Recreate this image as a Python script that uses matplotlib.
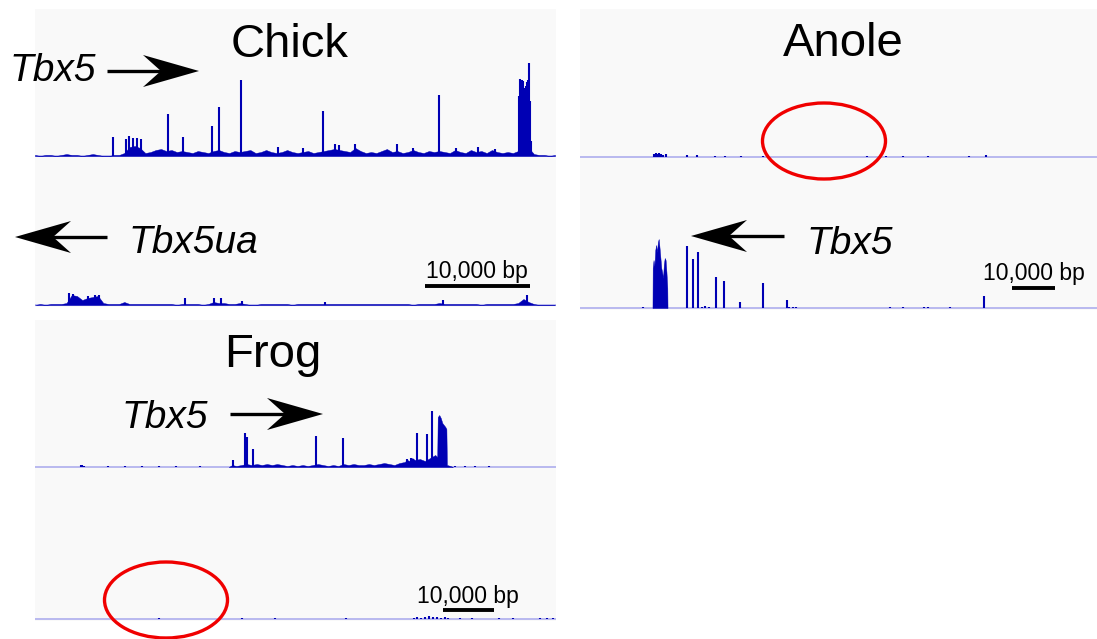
import numpy as np
import matplotlib
matplotlib.use('Agg')
import matplotlib.pyplot as plt
from matplotlib.patches import Ellipse, Polygon

plt.rcParams['font.family'] = ['Liberation Sans', 'DejaVu Sans']

W, H = 1097, 639
BG = '#f9f9f9'
SIGNAL = '#0000b4'
BASE = '#b4b4ee'

# ---------------- chick (0.5 kb bins from 0 kb) ----------------
chick_span_kb = 49.6
chick_top_floor = [1, 0, 1, 1, 0, 1, 2, 1, 1, 0, 1, 2, 1, 0,
                   0, 1, 1, 3, 9, 10, 8, 3, 4, 6,
                   7, 5, 6, 4, 5, 4, 3, 5, 4, 3,
                   5, 6, 4, 3, 5, 4, 5, 6, 3, 4,
                   6, 4, 3, 4, 6, 4, 3, 4, 5, 3,
                   4, 5, 6, 7, 6, 5, 4, 8, 5, 3,
                   4, 3, 5, 7, 4, 5, 3, 4, 6, 4,
                   3, 5, 4, 5, 4, 3, 6, 4, 3, 6,
                   4, 5, 3, 6, 4, 3, 4, 3, 5, 8,
                   8, 2, 1, 1, 0, 1]
chick_top_spike_kb = [7.39, 8.67, 8.99, 9.31, 9.73, 10.05, 12.62, 14.12, 16.86,
                      17.56, 19.65, 23.1, 25.5, 27.38, 28.57, 28.9, 30.5, 34.44,
                      36.0, 38.42, 40.1, 42.2, 43.8,
                      46.1, 46.2, 46.3, 46.4, 46.5, 46.6, 46.7, 46.8, 46.9,
                      47.0, 47.1, 47.2]
chick_top_spike_h = [19, 17, 20, 18, 18, 17, 42, 19, 30,
                     49, 76, 9, 8, 45, 12, 11, 12, 12,
                     8, 61, 8, 9, 7,
                     60, 77, 72, 76, 75, 68, 70, 74, 76,
                     93, 55, 15]

chick_bot_floor = [0, 1, 0, 1, 1, 1, 2, 10, 9, 5,
                   7, 8, 9, 2, 1, 1, 1, 3, 1, 1,
                   1, 1, 1, 1, 1, 1, 1, 0, 1, 1,
                   1, 1, 0, 1, 3, 2, 2, 1, 1, 2,
                   1, 0, 0, 1, 1, 1, 1, 1, 1, 0,
                   1, 1, 1, 1, 1, 1, 1, 1, 1, 1,
                   1, 1, 1, 1, 1, 1, 1, 1, 1, 1,
                   1, 1, 0, 1, 1, 1, 1, 2, 1, 1,
                   1, 1, 1, 1, 1, 0, 1, 1, 1, 1,
                   1, 1, 2, 6, 3, 1, 0, 0, 0, 0]
chick_bot_spike_kb = [3.24, 3.6, 5.0, 5.7, 6.1, 14.3, 17.0, 17.7, 19.7, 27.6, 38.8, 46.8]
chick_bot_spike_h = [12, 11, 9, 10, 10, 7, 7, 7, 4, 3, 5, 10]

# ---------------- anole ----------------
anole_span_kb = 120.2
anole_top_spike_kb = [17.2, 17.6, 18.0, 18.4, 18.8, 19.4, 20.0, 24.8, 27.2, 31.5,
                      33.8, 37.4, 42.5, 66.8, 71.2, 75.1, 80.9, 90.5, 94.4]
anole_top_spike_h = [3, 4, 3, 4, 3, 2, 3, 2, 2, 1,
                     1, 1, 1, 1, 1, 1, 1, 1, 2]

anole_bot_block_kb = [16.85, 16.9, 17.1, 17.3, 17.5, 17.7, 17.9, 18.1, 18.3, 18.5,
                      18.7, 18.9, 19.1, 19.3, 19.5, 19.7, 19.9, 20.1, 20.3, 20.35]
anole_bot_block_h = [0, 40, 48, 42, 58, 63, 56, 66, 69, 60,
                     50, 40, 36, 30, 44, 50, 48, 36, 20, 0]
anole_bot_spike_kb = [14.7, 24.95, 26.35, 27.5, 28.3, 29.0, 30.0, 31.6, 33.5, 37.2,
                      42.6, 48.1, 48.6, 49.5, 50.3, 72.0, 75.0, 80.0, 81.0, 86.0, 94.0]
anole_bot_spike_h = [1, 62, 49, 56, 1, 2, 1, 31, 27, 6,
                     25, 8, 1, 1, 1, 1, 1, 1, 1, 1, 12]

# ---------------- frog ----------------
frog_span_kb = 102.2
frog_top_floor_kb = [38.0, 38.7, 39.5, 40.5, 41.5, 42.5, 43.5, 44.5, 45.5, 46.5,
                     47.5, 48.5, 49.5, 50.5, 51.5, 52.5, 53.5, 54.5, 55.5, 56.5,
                     57.5, 58.5, 59.5, 60.5, 61.5, 62.5, 63.5, 64.5, 65.5, 66.5,
                     67.5, 68.5, 69.5, 70.5, 71.5, 72.5, 73.0, 73.5, 74.0, 74.5,
                     75.5, 76.5, 77.5, 78.5, 78.9, 79.0, 79.3, 79.6, 79.9, 80.2,
                     80.5, 80.7, 80.8, 81.5, 82.0]
frog_top_floor_h = [0, 2, 1, 2, 3, 2, 3, 2, 3, 2,
                    3, 2, 1, 2, 1, 2, 1, 2, 3, 2,
                    1, 2, 1, 3, 2, 3, 2, 2, 3, 2,
                    3, 4, 3, 2, 4, 5, 7, 6, 9, 7,
                    8, 6, 9, 12, 10, 50, 52, 49, 44, 42,
                    40, 38, 2, 1, 0]
frog_top_spike_kb = [9.0, 9.3, 9.6, 14.3, 17.6, 21.0, 24.3, 27.6, 32.4, 38.9,
                     41.2, 41.5, 42.8, 55.2, 60.4, 72.9, 73.8, 74.2, 75.0, 76.9,
                     77.9, 82.4, 84.3, 86.3, 89.0]
frog_top_spike_h = [2, 2, 1, 1, 1, 1, 1, 1, 1, 7,
                    34, 30, 18, 31, 29, 8, 9, 8, 34, 33,
                    56, 1, 1, 1, 1]

frog_bot_spike_kb = [24.3, 40.7, 47.0, 61.0, 74.3, 75.0, 75.8, 76.5, 77.3, 78.0,
                     78.8, 79.6, 80.4, 81.0, 83.3, 85.7, 91.0, 93.7, 99.0, 100.4, 101.7]
frog_bot_spike_h = [1, 1, 1, 1, 1, 2, 1, 2, 3, 2,
                    2, 1, 2, 1, 1, 1, 1, 1, 1, 1, 1]

fig = plt.figure(figsize=(W / 100, H / 100), dpi=100, facecolor='white')


def track(x0, y0, x1, y1, base, span, floor_kb=None, floor_h=None,
          spike_kb=(), spike_h=()):
    # box in pixels from the top-left corner, one data unit = one pixel in y
    ax = fig.add_axes([x0 / W, 1 - y1 / H, (x1 - x0) / W, (y1 - y0) / H])
    ax.set_facecolor(BG)
    ax.set_xlim(0, span)
    ax.set_ylim(-(y1 - base), base - y0)
    for s in ax.spines.values():
        s.set_visible(False)
    ax.set_xticks([])
    ax.set_yticks([])
    ax.axhline(0, color=BASE, lw=1.3, zorder=1)
    if floor_kb is not None:
        ax.fill_between(floor_kb, 0, floor_h, color=SIGNAL, lw=0.3, zorder=2)
    ax.vlines(spike_kb, 0, spike_h, color=SIGNAL, lw=1.5, zorder=3)
    return ax


def scale_bar(ax, base, start_kb, bar_y, text_y):
    ax.plot([start_kb, start_kb + 10], [base - bar_y] * 2, color='black',
            lw=2.8, solid_capstyle='butt', clip_on=False, zorder=5)
    ax.text(start_kb + 5, base - text_y, '10,000 bp', fontsize=16.5,
            ha='center', va='baseline', zorder=5)


chick_bins = np.arange(0, 50, 0.5)

track(35, 9, 556, 158, 156, chick_span_kb, chick_bins, chick_top_floor,
      chick_top_spike_kb, chick_top_spike_h)
ax_cb = track(35, 158, 556, 307, 305, chick_span_kb, chick_bins, chick_bot_floor,
              chick_bot_spike_kb, chick_bot_spike_h)
scale_bar(ax_cb, 305, 37.1, 286, 278)

track(580, 9, 1097, 159, 157, anole_span_kb, None, None,
      anole_top_spike_kb, anole_top_spike_h)
ax_ab = track(580, 159, 1097, 310, 308, anole_span_kb, anole_bot_block_kb,
              anole_bot_block_h, anole_bot_spike_kb, anole_bot_spike_h)
scale_bar(ax_ab, 308, 100.5, 288, 280)

track(35, 320, 556, 469, 467, frog_span_kb, frog_top_floor_kb, frog_top_floor_h,
      frog_top_spike_kb, frog_top_spike_h)
ax_fb = track(35, 469, 556, 621, 619, frog_span_kb, None, None,
              frog_bot_spike_kb, frog_bot_spike_h)
scale_bar(ax_fb, 619, 80.0, 610, 603)

# overlay in pixel coordinates for titles, gene arrows and circles
ov = fig.add_axes([0, 0, 1, 1], zorder=10)
ov.set_xlim(0, W)
ov.set_ylim(H, 0)
ov.axis('off')
ov.patch.set_alpha(0)


def gene_arrow(tail, tip, y, L=56, hw=16):
    d = np.sign(tip - tail)
    notch = tip - d * 0.68 * L
    ov.plot([tail, notch + d * 2], [y, y], color='black', lw=2.4,
            solid_capstyle='butt')
    ov.add_patch(Polygon([(tip, y), (tip - d * L, y - hw), (notch, y),
                          (tip - d * L, y + hw)], closed=True,
                         facecolor='black', edgecolor='none'))


for name, x, y in [('Chick', 290, 57), ('Anole', 843, 56), ('Frog', 273, 367)]:
    ov.text(x, y, name, fontsize=34, ha='center', va='baseline')

for name, x, y in [('Tbx5', 53, 81), ('Tbx5ua', 193, 253),
                   ('Tbx5', 850, 254), ('Tbx5', 165, 428)]:
    ov.text(x, y, name, fontsize=28, style='italic', ha='center', va='baseline')

gene_arrow(107, 199, 71)
gene_arrow(107, 15, 237)
gene_arrow(784, 691, 236)
gene_arrow(230, 323, 414)

for cx, cy in [(824, 141), (166, 600)]:
    ov.add_patch(Ellipse((cx, cy), 123, 76, facecolor='none',
                         edgecolor='#f00000', lw=2.4))

fig.savefig('out.png', dpi=100, facecolor='white')
